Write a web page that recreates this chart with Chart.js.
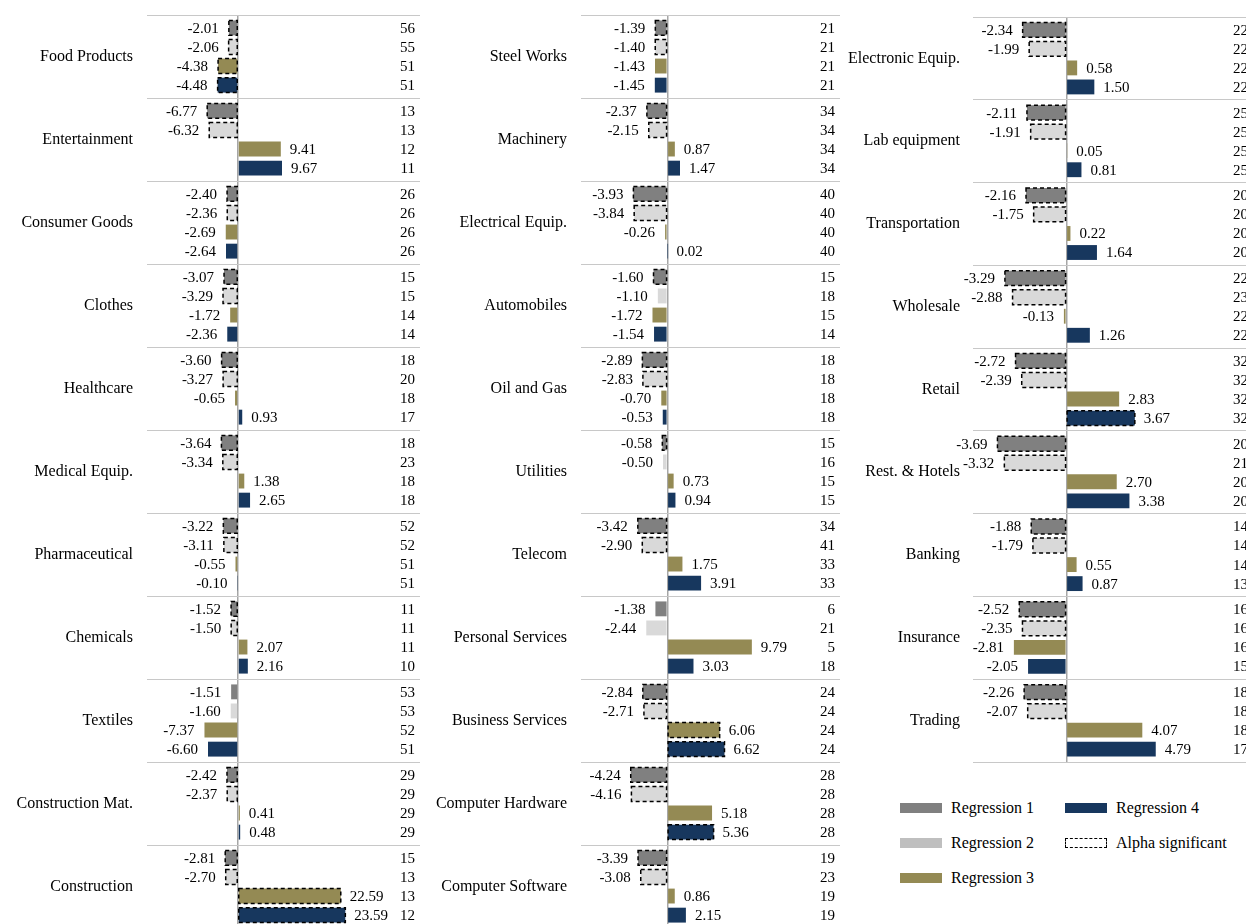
<!DOCTYPE html>
<html>
<head>
<meta charset="utf-8">
<script src="https://cdn.jsdelivr.net/npm/chart.js@4.4.1/dist/chart.umd.min.js"></script>
<style>
  html, body { margin: 0; padding: 0; background: #fff; overflow: hidden; width: 1246px; height: 924px; }
  canvas { position: absolute; top: 0; }
  #c1 { left: 0; }
  #c2 { left: 420px; }
  #c3 { left: 835px; }
  .leg { position: absolute; height: 20px; display: flex; align-items: center;
         font: 16px "Liberation Serif", "Times New Roman", serif; color: #000; white-space: nowrap; }
  .sw { width: 42px; height: 10px; margin-right: 9px; box-sizing: border-box; }
</style>
</head>
<body>
<canvas id="c1" width="420" height="940"></canvas>
<canvas id="c2" width="420" height="940"></canvas>
<canvas id="c3" width="418" height="780"></canvas>

<div class="leg" style="left:900px; top:798px;"><div class="sw" style="background:#808080"></div>Regression 1</div>
<div class="leg" style="left:900px; top:833px;"><div class="sw" style="background:#bfbfbf"></div>Regression 2</div>
<div class="leg" style="left:900px; top:868px;"><div class="sw" style="background:#948a54"></div>Regression 3</div>
<div class="leg" style="left:1065px; top:798px;"><div class="sw" style="background:#17375e"></div>Regression 4</div>
<div class="leg" style="left:1065px; top:833px;"><div class="sw" style="border:1.5px dashed #000; background:#fff"></div>Alpha significant</div>

<script>
// colores y nombres de las regresiones
const regNames = ['Regression 1', 'Regression 2', 'Regression 3', 'Regression 4'];
const regColors = ['#808080', '#d9d9d9', '#948a54', '#17375e'];

// columna 1
const ind1 = ['Food Products', 'Entertainment', 'Consumer Goods', 'Clothes', 'Healthcare', 'Medical Equip.',
  'Pharmaceutical', 'Chemicals', 'Textiles', 'Construction Mat.', 'Construction'];
const c1r1 = [-2.01, -6.77, -2.40, -3.07, -3.60, -3.64, -3.22, -1.52, -1.51, -2.42, -2.81];
const c1r2 = [-2.06, -6.32, -2.36, -3.29, -3.27, -3.34, -3.11, -1.50, -1.60, -2.37, -2.70];
const c1r3 = [-4.38, 9.41, -2.69, -1.72, -0.65, 1.38, -0.55, 2.07, -7.37, 0.41, 22.59];
const c1r4 = [-4.48, 9.67, -2.64, -2.36, 0.93, 2.65, -0.10, 2.16, -6.60, 0.48, 23.59];
const c1sig = ['1111', '1100', '1100', '1100', '1100', '1100', '1100', '1100', '0000', '1100', '1111'];
const c1n = [[56, 55, 51, 51], [13, 13, 12, 11], [26, 26, 26, 26], [15, 15, 14, 14], [18, 20, 18, 17], [18, 23, 18, 18],
  [52, 52, 51, 51], [11, 11, 11, 10], [53, 53, 52, 51], [29, 29, 29, 29], [15, 13, 13, 12]];

// columna 2
const ind2 = ['Steel Works', 'Machinery', 'Electrical Equip.', 'Automobiles', 'Oil and Gas', 'Utilities',
  'Telecom', 'Personal Services', 'Business Services', 'Computer Hardware', 'Computer Software'];
const c2r1 = [-1.39, -2.37, -3.93, -1.60, -2.89, -0.58, -3.42, -1.38, -2.84, -4.24, -3.39];
const c2r2 = [-1.40, -2.15, -3.84, -1.10, -2.83, -0.50, -2.90, -2.44, -2.71, -4.16, -3.08];
const c2r3 = [-1.43, 0.87, -0.26, -1.72, -0.70, 0.73, 1.75, 9.79, 6.06, 5.18, 0.86];
const c2r4 = [-1.45, 1.47, 0.02, -1.54, -0.53, 0.94, 3.91, 3.03, 6.62, 5.36, 2.15];
const c2sig = ['1100', '1100', '1100', '1000', '1100', '1000', '1100', '0000', '1111', '1101', '1100'];
const c2n = [[21, 21, 21, 21], [34, 34, 34, 34], [40, 40, 40, 40], [15, 18, 15, 14], [18, 18, 18, 18], [15, 16, 15, 15],
  [34, 41, 33, 33], [6, 21, 5, 18], [24, 24, 24, 24], [28, 28, 28, 28], [19, 23, 19, 19]];

// columna 3
const ind3 = ['Electronic Equip.', 'Lab equipment', 'Transportation', 'Wholesale', 'Retail', 'Rest. & Hotels',
  'Banking', 'Insurance', 'Trading'];
const c3r1 = [-2.34, -2.11, -2.16, -3.29, -2.72, -3.69, -1.88, -2.52, -2.26];
const c3r2 = [-1.99, -1.91, -1.75, -2.88, -2.39, -3.32, -1.79, -2.35, -2.07];
const c3r3 = [0.58, 0.05, 0.22, -0.13, 2.83, 2.70, 0.55, -2.81, 4.07];
const c3r4 = [1.50, 0.81, 1.64, 1.26, 3.67, 3.38, 0.87, -2.05, 4.79];
const c3sig = ['1100', '1100', '1100', '1100', '1101', '1100', '1100', '1100', '1100'];
const c3n = [[22, 22, 22, 22], [25, 25, 25, 25], [20, 20, 20, 20], [22, 23, 22, 22], [32, 32, 32, 32], [20, 21, 20, 20],
  [14, 14, 14, 13], [16, 16, 16, 15], [18, 18, 18, 17]];

Chart.defaults.font.family = '"Liberation Serif", "Times New Roman", serif';
Chart.defaults.color = '#000';

// Plugin: borde punteado (alpha significativo), etiquetas de valor y numero de observaciones
function makeLabelPlugin(sig, counts) {
  return {
    id: 'barLabels',
    afterDatasetsDraw(chart) {
      const ctx = chart.ctx;
      const area = chart.chartArea;
      ctx.save();
      chart.data.datasets.forEach((ds, d) => {
        const meta = chart.getDatasetMeta(d);
        meta.data.forEach((bar, i) => {
          const p = bar.getProps(['x', 'y', 'base', 'height'], true);
          const v = ds.data[i];
          const left = Math.min(p.x, p.base);
          const w = Math.abs(p.x - p.base);
          if (sig[i][d] === '1') {
            ctx.setLineDash([4, 3]);
            ctx.lineWidth = 1.5;
            ctx.strokeStyle = '#000';
            ctx.strokeRect(left, p.y - p.height / 2, w, p.height);
            ctx.setLineDash([]);
          }
          ctx.font = '15px "Liberation Serif", "Times New Roman", serif';
          ctx.fillStyle = '#000';
          ctx.textBaseline = 'middle';
          if (v < 0) {
            ctx.textAlign = 'right';
            ctx.fillText(v.toFixed(2), p.x - 10, p.y + 1);
          } else {
            ctx.textAlign = 'left';
            ctx.fillText(v.toFixed(2), p.x + 9, p.y + 1);
          }
          ctx.textAlign = 'right';
          ctx.fillText(String(counts[i][d]), area.right - 5, p.y + 1);
        });
      });
      ctx.restore();
    }
  };
}

function buildChart(id, labels, series, sig, counts, xMin, xMax, step, axisWidth, labelPad, padTop, padBottom) {
  const ctx = document.getElementById(id).getContext('2d');
  return new Chart(ctx, {
    type: 'bar',
    data: {
      labels: labels,
      datasets: series.map((data, k) => ({
        label: regNames[k],
        data: data,
        backgroundColor: regColors[k],
        borderWidth: 0,
        categoryPercentage: 0.92,
        barPercentage: 0.78
      }))
    },
    options: {
      indexAxis: 'y',
      responsive: false,
      animation: false,
      layout: { padding: { top: padTop, bottom: padBottom, left: 0, right: 0 } },
      plugins: {
        legend: { display: false },
        tooltip: { enabled: false }
      },
      scales: {
        x: {
          min: xMin,
          max: xMax,
          ticks: { display: false, stepSize: step },
          border: { display: false },
          grid: {
            drawTicks: false,
            lineWidth: 1.5,
            color: c => (c.tick && c.tick.value === 0) ? '#a6a6a6' : 'rgba(0,0,0,0)'
          },
          afterFit: s => { s.height = 0; s.paddingLeft = 0; s.paddingRight = 0; }
        },
        y: {
          offset: true,
          border: { display: false },
          grid: { offset: true, drawTicks: false, color: '#c8c8c8', lineWidth: 1 },
          ticks: { autoSkip: false, padding: labelPad, color: '#000', font: { size: 16 } },
          afterFit: s => { s.width = axisWidth; s.paddingTop = 0; s.paddingBottom = 0; }
        }
      }
    },
    plugins: [makeLabelPlugin(sig, counts)]
  });
}

buildChart('c1', ind1, [c1r1, c1r2, c1r3, c1r4], c1sig, c1n, -20, 40, 10, 147, 14, 15, 12);
buildChart('c2', ind2, [c2r1, c2r2, c2r3, c2r4], c2sig, c2n, -10, 20, 5, 161, 14, 15, 12);
buildChart('c3', ind3, [c3r1, c3r2, c3r3, c3r4], c3sig, c3n, -5, 10, 5, 138, 13, 17, 18);
</script>
</body>
</html>
